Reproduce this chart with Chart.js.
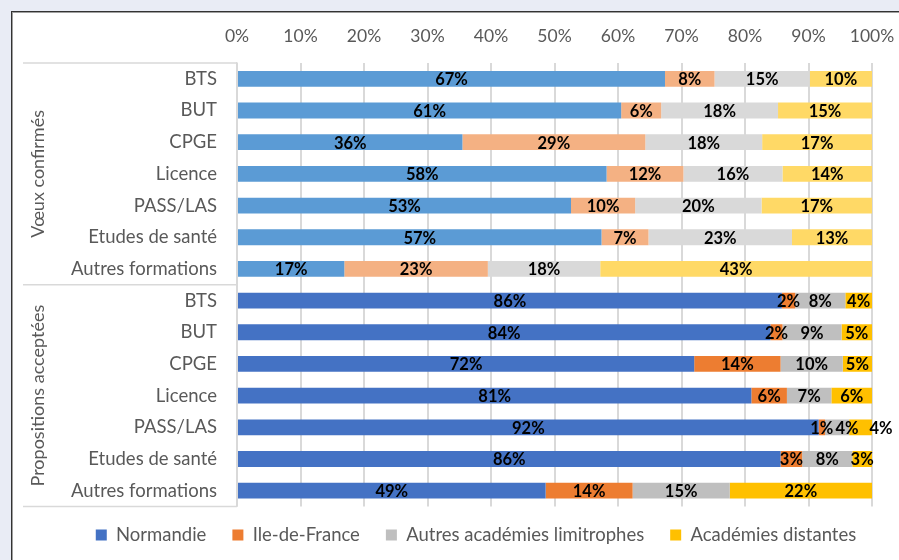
<!DOCTYPE html>
<html><head><meta charset="utf-8">
<script src="https://cdn.jsdelivr.net/npm/chart.js@4.4.1/dist/chart.umd.min.js"></script>
<style>
html,body{margin:0;padding:0;}
body{width:899px;height:560px;background:#E9ECF5;position:relative;overflow:hidden;}
#frame{position:absolute;left:11px;top:11px;width:900px;height:560px;background:#fff;border-left:1px solid #333;border-top:1px solid #333;box-shadow:inset 1px 1px 0 #A0A0A0;}
canvas{position:absolute;left:0;top:0;}
</style></head><body>
<div id="frame"></div>
<canvas id="c" width="899" height="560"></canvas>
<script>
// ---- data ----
const groups = ['Vœux confirmés', 'Propositions acceptées'];
const categories = ['BTS', 'BUT', 'CPGE', 'Licence', 'PASS/LAS', 'Etudes de santé', 'Autres formations'];
const seriesNames = ['Normandie', 'Ile-de-France', 'Autres académies limitrophes', 'Académies distantes'];
const xTickValues = [0, 10, 20, 30, 40, 50, 60, 70, 80, 90, 100];
// first 7 values: Vœux confirmés, next 7: Propositions acceptées
const normandie      = [67.4, 60.5, 35.5, 58.2, 52.6, 57.4, 16.9,  85.8, 84.0, 72.0, 81.0, 91.6, 85.6, 48.6];
const ileDeFrance    = [ 7.8,  6.3, 28.8, 12.1, 10.1,  7.4, 22.6,   2.1,  1.9, 13.6,  5.6,  1.0,  3.4, 13.7];
const limitrophes    = [15.0, 18.4, 18.4, 15.6, 19.9, 22.6, 17.7,   7.9,  9.3,  9.8,  7.0,  3.8,  7.9, 15.3];
const distantes      = [ 9.8, 14.8, 17.3, 14.1, 17.4, 12.6, 42.8,   4.2,  4.8,  4.6,  6.4,  3.6,  3.1, 22.4];

// ---- styles ----
const lightColors = ['#5B9BD5', '#F4B183', '#D9D9D9', '#FFD966'];
const darkColors  = ['#4472C4', '#ED7D31', '#BFBFBF', '#FFC000'];
const FONT = 'Lato';
const textGray = '#595959';

const rowLabels = groups.flatMap(() => categories);
const seriesValues = [normandie, ileDeFrance, limitrophes, distantes];

const segLabels = {
  id: 'segLabels',
  afterDatasetsDraw(chart) {
    const ctx = chart.ctx;
    ctx.save();
    ctx.font = 'bold 16.5px ' + FONT;
    ctx.fillStyle = '#000';
    ctx.textBaseline = 'middle';
    ctx.textAlign = 'left';
    const n = chart.data.labels.length;
    const nd = chart.data.datasets.length;
    for (let i = 0; i < n; i++) {
      let prevRight = -Infinity;
      for (let d = 0; d < nd; d++) {
        const el = chart.getDatasetMeta(d).data[i];
        const v = chart.data.datasets[d].data[i];
        const txt = Math.round(v) + '%';
        const w = ctx.measureText(txt).width;
        const x0 = Math.min(el.x, el.base), x1 = Math.max(el.x, el.base);
        let left = (x0 + x1) / 2 - w / 2;
        if (left < prevRight + 2) left = (d === nd - 1) ? x1 - 2.5 : prevRight + 2;
        ctx.fillText(txt, left, el.y + 1);
        prevRight = left + w;
      }
    }
    ctx.restore();
  }
};

const groupAxis = {
  id: 'groupAxis',
  afterLayout(chart) {
    const lg = chart.legend;
    if (lg) { lg.top -= 6.75; lg.left += 30; lg.right += 30; }
  },
  afterDraw(chart) {
    const {ctx, chartArea: {left, top, bottom}} = chart;
    const ys = chart.scales.y;
    const per = categories.length;
    ctx.save();
    ctx.strokeStyle = '#D9D9D9';
    ctx.lineWidth = 1.5;
    const bounds = [];
    for (let g = 0; g <= groups.length; g++) {
      let yy;
      if (g === 0) yy = top;
      else if (g === groups.length) yy = bottom;
      else yy = (ys.getPixelForValue(g * per - 1) + ys.getPixelForValue(g * per)) / 2;
      bounds.push(yy);
      ctx.beginPath(); ctx.moveTo(23, yy); ctx.lineTo(left, yy); ctx.stroke();
    }
    ctx.fillStyle = textGray;
    ctx.font = '18px ' + FONT;
    ctx.textAlign = 'center';
    ctx.textBaseline = 'middle';
    groups.forEach((name, g) => {
      const cy = (bounds[g] + bounds[g + 1]) / 2;
      ctx.save(); ctx.translate(38, cy); ctx.rotate(-Math.PI / 2); ctx.fillText(name, 0, 0); ctx.restore();
    });
    ctx.restore();
  }
};

function draw() {
  const per = categories.length;
  new Chart(document.getElementById('c'), {
    type: 'bar',
    data: {
      labels: rowLabels,
      datasets: seriesNames.map((name, s) => ({
        label: name,
        data: seriesValues[s],
        backgroundColor: ctx => ctx.dataIndex < per ? lightColors[s] : darkColors[s],
        borderWidth: 0,
        categoryPercentage: 1,
        barPercentage: 0.5
      }))
    },
    options: {
      indexAxis: 'y',
      responsive: false,
      animation: false,
      layout: {padding: {left: 20, right: 27, top: 0, bottom: -1}},
      scales: {
        x: {
          position: 'top',
          stacked: true,
          min: 0, max: 100,
          afterBuildTicks: sc => { sc.ticks = xTickValues.map(v => ({value: v})); },
          afterFit: sc => { sc.height = 63; sc.paddingLeft = 0; sc.paddingRight = 0; },
          ticks: {color: textGray, font: {family: FONT, size: 17.5}, padding: 16, callback: v => v + '%', maxRotation: 0},
          grid: {color: '#D9D9D9', lineWidth: 2, drawTicks: false},
          border: {display: false}
        },
        y: {
          stacked: true,
          afterFit: sc => { sc.width = 217; },
          ticks: {color: textGray, font: {family: FONT, size: 18.5}, padding: 20, autoSkip: false},
          grid: {display: false, drawTicks: false},
          border: {display: true, color: '#D9D9D9', width: 1.5}
        }
      },
      plugins: {
        tooltip: {enabled: false},
        legend: {
          position: 'bottom',
          labels: {
            color: textGray,
            font: {family: FONT, size: 18.5},
            boxWidth: 11, boxHeight: 11, padding: 26,
            generateLabels: chart => seriesNames.map((name, s) => ({
              text: name, fillStyle: darkColors[s], strokeStyle: darkColors[s], lineWidth: 0,
              fontColor: textGray, datasetIndex: s, hidden: false
            }))
          }
        }
      }
    },
    plugins: [segLabels, groupAxis]
  });
}
if (document.fonts && document.fonts.load) {
  Promise.all([document.fonts.load('18.5px Lato'), document.fonts.load('bold 16.5px Lato')]).then(draw, draw);
} else draw();
</script>
</body></html>
